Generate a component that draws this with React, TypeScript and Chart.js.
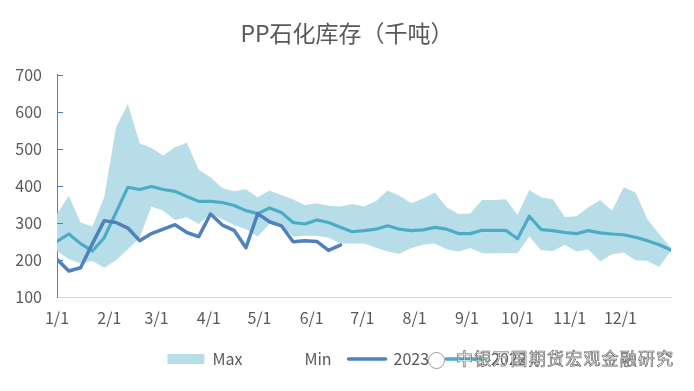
import React, { useEffect, useRef } from "react";
import { Chart, registerables } from "chart.js";

Chart.register(...registerables);

// ---- data ----
const monthLabels = ["1/1", "2/1", "3/1", "4/1", "5/1", "6/1", "7/1", "8/1", "9/1", "10/1", "11/1", "12/1"];
const monthStartDays = [0, 31, 59, 90, 120, 151, 181, 212, 243, 273, 304, 334];
const yTickValues = [100, 200, 300, 400, 500, 600, 700];

// weekly values (week 1 .. week 53)
const maxValues = [324, 373, 301, 290, 369, 558, 621, 515, 502, 482, 504, 516, 443, 423, 394, 385, 391, 369, 387, 375, 363, 348, 353, 346, 344, 351, 344, 358, 387, 373, 353, 366, 382, 342, 324, 325, 362, 362, 364, 322, 389, 369, 364, 316, 318, 342, 362, 333, 396, 382, 310, 270, 232];
const minValues = [224, 202, 191, 197, 179, 199, 229, 260, 344, 333, 308, 315, 297, 324, 310, 294, 283, 263, 297, 292, 263, 265, 265, 260, 244, 244, 244, 233, 223, 217, 232, 241, 244, 229, 223, 232, 218, 218, 219, 219, 263, 226, 224, 241, 223, 228, 196, 215, 220, 199, 197, 181, 225];
const values2023 = [202, 170, 179, 244, 306, 301, 286, 252, 271, 283, 295, 274, 263, 324, 294, 280, 233, 325, 303, 292, 249, 252, 250, 226, 240];
const values2022 = [250, 270, 244, 224, 260, 328, 396, 390, 398, 390, 385, 371, 358, 358, 355, 347, 333, 325, 340, 328, 301, 297, 308, 301, 288, 276, 279, 283, 292, 283, 279, 281, 288, 283, 271, 271, 280, 280, 280, 257, 318, 282, 279, 274, 271, 279, 273, 270, 268, 261, 252, 241, 227];

const seriesNames = ["Max", "Min", "2023", "2022"];
const titleText = "PP石化库存（千吨）";
const watermarkText = "中银万国期货宏观金融研究";

// ---- styles ----
const BAND = "#b7dee8";
const C2023 = "#4f81bd";
const C2022 = "#4bacc6";
const TEXT = "#595959";
const FONT = '"Noto Sans CJK SC", "Noto Sans", sans-serif';

const DAYS_PER_WEEK = 7;
const toPoints = (arr: number[]) => arr.map((v, i) => ({ x: i * DAYS_PER_WEEK, y: v }));

const innerTicks = {
  id: "innerTicks",
  afterDatasetsDraw(chart: any) {
    const y = chart.scales.y;
    const ctx = chart.ctx;
    const left = chart.chartArea.left;
    ctx.save();
    ctx.strokeStyle = C2023;
    ctx.lineWidth = 1;
    y.ticks.forEach((t: any) => {
      if (t.value === y.min) return;
      const py = Math.round(y.getPixelForValue(t.value)) + 0.5;
      ctx.beginPath();
      ctx.moveTo(left, py);
      ctx.lineTo(left + 6, py);
      ctx.stroke();
    });
    ctx.restore();
  },
};

export default function App() {
  const ref = useRef<HTMLCanvasElement | null>(null);

  useEffect(() => {
    if (!ref.current) return;
    const chart = new Chart(ref.current, {
      type: "line",
      data: {
        datasets: [
          {
            label: seriesNames[0],
            data: toPoints(maxValues),
            borderWidth: 0,
            borderColor: BAND,
            backgroundColor: BAND,
            pointRadius: 0,
            fill: "+1",
            tension: 0,
          },
          {
            label: seriesNames[1],
            data: toPoints(minValues),
            borderWidth: 0,
            borderColor: BAND,
            backgroundColor: "#ffffff",
            pointRadius: 0,
            fill: false,
            tension: 0,
          },
          {
            label: seriesNames[2],
            data: toPoints(values2023),
            borderColor: C2023,
            backgroundColor: C2023,
            borderWidth: 3.5,
            pointRadius: 0,
            fill: false,
            tension: 0,
            borderJoinStyle: "round",
            borderCapStyle: "round",
          },
          {
            label: seriesNames[3],
            data: toPoints(values2022),
            borderColor: C2022,
            backgroundColor: C2022,
            borderWidth: 3.2,
            pointRadius: 0,
            fill: false,
            tension: 0,
            borderJoinStyle: "round",
            borderCapStyle: "round",
          },
        ],
      },
      options: {
        responsive: false,
        animation: false,
        events: [],
        layout: { padding: { top: 0, left: 7, right: 7, bottom: 14 } },
        scales: {
          x: {
            type: "linear",
            min: 0,
            max: 364,
            afterBuildTicks: (scale: any) => {
              scale.ticks = monthStartDays.map((d) => ({ value: d }));
            },
            afterFit: (scale: any) => {
              scale.height = 37;
            },
            ticks: {
              autoSkip: false,
              maxRotation: 0,
              padding: 11,
              color: TEXT,
              font: { size: 16, family: FONT },
              callback: (v: any) => {
                const idx = monthStartDays.indexOf(Number(v));
                return idx >= 0 ? monthLabels[idx] : "";
              },
            },
            grid: { display: false, drawTicks: false },
            border: { display: true, color: "#d9d9d9", width: 1 },
          },
          y: {
            position: "left",
            min: 100,
            max: 700,
            afterBuildTicks: (scale: any) => {
              scale.ticks = yTickValues.map((v) => ({ value: v }));
            },
            afterFit: (scale: any) => {
              scale.width = 50;
            },
            ticks: {
              padding: 15,
              color: TEXT,
              font: { size: 16, family: FONT },
            },
            grid: { display: false, drawTicks: false },
            border: { display: true, color: C2023, width: 1 },
          },
          yRightSpace: {
            position: "right",
            min: 100,
            max: 700,
            afterFit: (scale: any) => {
              scale.width = 16;
            },
            ticks: { display: false },
            grid: { display: false, drawTicks: false },
            border: { display: false },
          },
        },
        plugins: {
          filler: { drawTime: "beforeDatasetsDraw", propagate: false },
          tooltip: { enabled: false },
          title: {
            display: true,
            text: titleText,
            color: TEXT,
            font: { size: 23, family: FONT, weight: "normal" },
            padding: { top: 19, bottom: 28 },
          },
          legend: {
            display: true,
            position: "bottom",
            labels: {
              usePointStyle: true,
              pointStyleWidth: 37,
              boxHeight: 10,
              padding: 17,
              color: TEXT,
              font: { size: 16, family: FONT },
              generateLabels: () => [
                { text: seriesNames[0], fillStyle: BAND, strokeStyle: BAND, lineWidth: 0, pointStyle: "rect", hidden: false, datasetIndex: 0, fontColor: TEXT },
                { text: seriesNames[1], fillStyle: "#ffffff", strokeStyle: "#ffffff", lineWidth: 0, pointStyle: "rect", hidden: false, datasetIndex: 1, fontColor: TEXT },
                { text: seriesNames[2], fillStyle: C2023, strokeStyle: C2023, lineWidth: 3.5, lineCap: "round", pointStyle: "line", hidden: false, datasetIndex: 2, fontColor: TEXT },
                { text: seriesNames[3], fillStyle: C2022, strokeStyle: C2022, lineWidth: 3.5, lineCap: "round", pointStyle: "line", hidden: false, datasetIndex: 3, fontColor: TEXT },
              ] as any,
            },
          },
        },
      } as any,
      plugins: [innerTicks],
    });
    return () => chart.destroy();
  }, []);

  return (
    <div style={{ position: "absolute", left: 0, top: 0, width: 694, height: 391, background: "#fff", overflow: "hidden" }}>
      <canvas ref={ref} width={694} height={391} style={{ display: "block" }} />
      <div
        style={{
          position: "absolute",
          left: 428,
          top: 352,
          width: 15,
          height: 15,
          borderRadius: "50%",
          border: "1.5px solid #9a9a9a",
          background: "rgba(255,255,255,0.9)",
        }}
      />
      <div
        style={{
          position: "absolute",
          left: 456,
          top: 347,
          fontFamily: FONT,
          fontSize: 17,
          lineHeight: "22px",
          color: "rgba(255,255,255,0.95)",
          WebkitTextStroke: "0.7px #6a6a6a",
          whiteSpace: "nowrap",
          letterSpacing: 1.2,
        }}
      >
        {watermarkText}
      </div>
    </div>
  );
}
